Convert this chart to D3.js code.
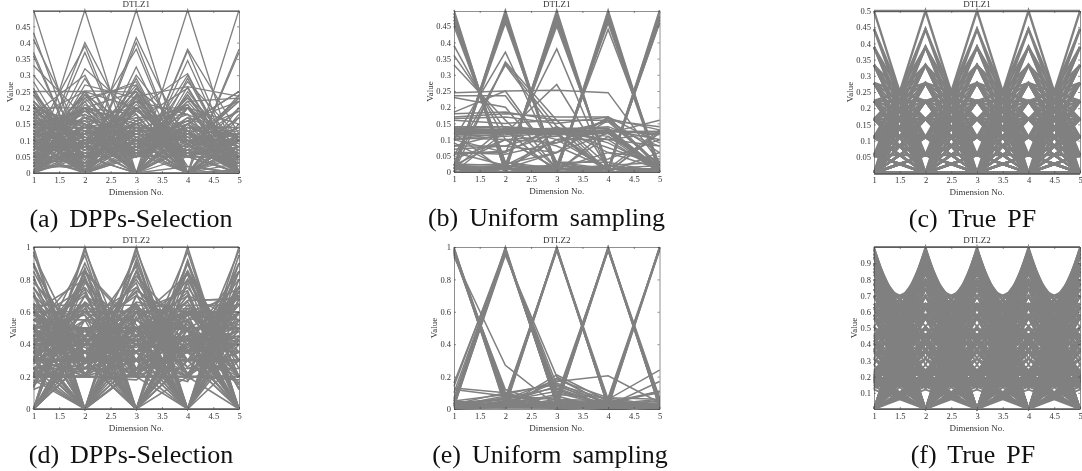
<!DOCTYPE html>
<meta charset="utf-8">
<style>
body { margin: 0; background: #fff; }
svg { filter: blur(.35px); }
text { font-family: "Liberation Serif", serif; fill: #333; }
.caption { fill: #111; word-spacing: 4.5px; }
</style>
<svg width="1082" height="471"></svg>
<script src="https://d3js.org/d3.v7.min.js"></script>
<script>

var dimensions = [1, 2, 3, 4, 5];
var xTicks = [1, 1.5, 2, 2.5, 3, 3.5, 4, 4.5, 5];
var ticksA = [0, .05, .1, .15, .2, .25, .3, .35, .4, .45];
var ticksC = [.05, .1, .15, .2, .25, .3, .35, .4, .45, .5];
var ticksD = [0, .2, .4, .6, .8, 1];
var ticksF = [.1, .2, .3, .4, .5, .6, .7, .8, .9];

var dppsDtlz1 = [
[.497,.497,.497,.497,.497],
[.5,0,0,0,0],[0,.5,0,0,0],[0,0,.5,0,0],[0,0,0,.5,0],[0,0,0,0,.5],
[.43,0,.07,0,0],[.41,.09,0,0,0],[.37,0,0,.13,0],[.36,0,.14,0,0],[.33,.17,0,0,0],[.26,0,0,.24,0],
[0,.4,.1,0,0],[.1,.39,0,0,.01],[0,.37,0,.13,0],[0,.32,.18,0,0],[.18,.3,0,.02,0],[0,.27,.23,0,0],[.05,.25,.2,0,0],
[0,0,.415,.085,0],[.09,0,.4,0,.01],[0,.12,.38,0,0],[.17,0,.325,0,0],[.21,0,.29,0,0],[0,.22,.28,0,0],
[0,0,0,.38,.12],[.12,0,0,.375,.005],[0,.15,0,.345,0],[0,0,.195,.305,0],[.21,0,0,.29,0],[0,0,.235,.265,0],
[0,.12,0,0,.38],[.13,0,0,0,.37],[0,.252,.248,0,0],[0,0,0,.265,.235],[0,0,.05,.22,.23],
[.02,.29,.05,.14,0],[.12,.2,.18,0,0],[0,.23,.27,0,0],[.18,.04,.26,.02,0],[.02,.08,.22,.18,0],[0,.06,.05,.28,.11],[.04,.05,.08,.23,.1],[.2,.2,.1,0,0],
[.2,.1,.05,.15,0],[.12,.18,.1,0,.1],[.15,0,.2,.05,.1],[.08,.22,0,.12,.08],[.1,.05,.17,.18,0],[.17,.13,0,.2,0],[0,.2,.15,.1,.05],[.05,.1,.25,.05,.05],[.22,.03,.12,.05,.08],[.14,.06,.09,.21,0],
[0,.07,.21,.08,.14],[.06,.16,.05,.1,.13],[.19,0,.06,.14,.11],[.03,.21,.11,.15,0],[.11,.03,.14,.05,.17],[.16,.09,.18,0,.07],[.04,.13,.07,.22,.04],[.24,.08,0,0,.18],[.09,.19,.16,.06,0],[.13,.04,.22,.11,0],
[.07,.11,.05,.17,.1],[.18,.15,.06,0,.11],[.02,.06,.19,.09,.14],[.1,.2,.08,0,.12],[.15,.12,.13,.1,0],[0,.09,.13,.2,.08],[.21,.01,.1,.16,.02],[.08,.17,.2,.05,0],[.12,.08,.05,.13,.12],[.03,.14,.17,.05,.11],
[.25,.05,0,.08,.12],[.06,.02,.16,.26,0],[.11,.23,.06,.07,.03],[.19,.11,.05,.12,.03],[.05,.17,.09,.05,.14],[.16,.02,.24,0,.08],[.01,.08,.12,.18,.11],[.14,.2,0,.1,.06],[.09,.06,.07,.23,.05],[.2,.14,.11,0,.05],
[.04,.03,.26,.13,.04],[.13,.16,.14,0,.07],[.17,.05,0,.09,.19],[.07,.24,.05,.06,.08],[.1,.12,.19,.09,0],[0,.18,.05,.24,.03],[.22,.07,.15,0,.06],[.06,.09,.27,0,.08],[.15,.19,.07,.05,.04],[.02,.15,.1,.11,.12],
[0,0,.1,.15,.25],[.1,0,0,.15,.25],[0,.1,.08,.09,.23],[.05,.05,.1,.06,.24],[.08,.02,.1,.07,.23],[.25,.25,0,0,0],
[.25,0,.1,.15,0],[.2,0,.15,0,.15],[.1,0,.3,.1,0],[.15,0,.05,.3,0],[.05,0,.2,.2,.05],[0,.15,0,.2,.15],[.1,.2,0,.15,.05],[.2,.15,0,.05,.1],[.05,.25,0,.2,0],[.15,.05,0,.25,.05],
[.1,.1,.2,0,.1],[.02,.2,.25,0,.03],[.15,.15,.1,0,.1],[.05,.1,.15,0,.2],[.2,.05,.2,.05,0],[0,.05,.05,.15,.25],[.18,.02,.2,.1,0],[.06,.2,.15,.09,0],[.3,.1,.05,.05,0],[.28,.02,.1,.1,0],[.22,.08,.2,0,0],[.17,.25,.08,0,0],
[.04,.12,.14,.12,.08],[.1,.1,.1,.1,.1],[.13,.11,.09,.07,.1],[.07,.14,.06,.14,.09],[.12,.06,.16,.06,.1],[.09,.09,.12,.11,.09],[.16,.07,.08,.12,.07],[.05,.15,.11,.08,.11],[.11,.13,.05,.15,.06],[.08,.05,.13,.16,.08],
[.06,.14,0,.08,.22],[.14,0,.08,.14,.14],[0,.13,.12,.05,.2],[.13,.07,.13,0,.17],[.09,.14,.14,.13,0],[.06,0,.13,.12,.19],[.12,.12,.06,.2,0],[.19,.09,.09,.13,0],[0,.24,.13,.13,0],[.24,0,.06,.2,0],
[.16,.16,.06,.12,0],[.03,.08,.09,.08,.22],[.08,.08,.24,0,.1],[.11,.17,.12,.1,0],[.14,.14,.22,0,0],[.07,.19,.07,.17,0],[.01,.03,.16,.2,.1],[.02,.02,.08,.16,.22],[.03,.01,.23,.06,.17],[.12,.02,.15,.21,0]
];

var uniformDtlz1 = [
[.5,0,.0,0,0],[.49,.01,0,0,0],[.48,.02,0,.0,0],[.47,0,.01,.02,0],[.46,.02,.01,0,.01],[.45,.03,.01,.01,0],[.39,.1,.01,0,0],[.36,.13,0,.01,0],[.33,.16,.01,0,0],[.49,0,.01,0,0],[.48,0,.02,0,0],[.47,.03,0,0,0],
[0,.5,0,0,0],[.01,.49,0,0,0],[0,.48,.01,.01,0],[.02,.47,0,.01,0],[.01,.46,.02,.01,0],[0,.49,.01,0,0],[.01,.48,.01,0,0],[.02,.47,.01,0,0],[.1,.37,.03,0,0],[0,.34,.16,0,0],[.02,.335,.14,0,0],[.05,.33,.12,0,0],
[0,0,.5,0,0],[0,.01,.49,0,0],[.01,0,.48,.01,0],[0,.02,.47,.01,0],[.02,.01,.46,.01,0],[.01,.02,.45,.02,0],[0,.01,.48,.01,0],[.01,.01,.47,.01,0],[.06,.06,.38,0,0],[.1,.12,.27,.01,0],
[0,0,0,.5,0],[.01,0,0,.49,0],[0,.01,.01,.48,0],[0,.01,0,.47,.02],[.01,.01,.02,.46,0],[.02,0,.02,.44,.02],[0,.01,0,.49,0],[.01,0,.01,.48,0],[.01,.01,0,.47,.01],
[0,0,0,0,.5],[.01,0,0,.01,.49],[0,.01,.01,0,.48],[.01,0,.01,.01,.47],[0,.02,.01,.01,.46],[.01,.01,.01,.01,.46],[0,0,.01,.01,.48],[.01,.01,0,0,.47],
[.245,.25,.252,.245,.03],[.235,.235,.03,.01,0],[.23,.2,.01,0,.06],[.18,.185,.16,.02,0],[.17,.18,.17,.17,.01],[.165,.17,.15,.17,.02],[.16,.15,.16,.16,.14],[.185,.25,.03,.03,0],
[.13,.125,.125,.125,0],[.125,.13,.12,.125,.01],[.12,.125,.13,.12,.01],[.13,.12,.125,.13,0],[.125,.125,.12,.13,.01],[.12,.13,.13,.12,0],[.135,.13,.115,.12,0],[.115,.12,.13,.135,0],[.13,.13,.13,.11,0],[.11,.115,.135,.135,.01],
[.14,.135,.13,.1,0],[.125,.125,.125,.125,.125],[.12,.12,.12,.01,.13],[.13,.12,.115,.0,.125],[.125,.13,.0,.13,.115],[.12,.0,.13,.125,.125],[.0,.125,.125,.125,.12],[.135,.125,.12,.0,.12],
[.105,.1,.11,.16,.02],[.1,.11,.12,.155,.02],[.14,.14,.13,.075,.02],[.135,.13,.135,.09,.01],[.08,.08,.06,.12,.16],[.07,.08,.13,.14,.08],[.06,.055,.09,.165,.13],[.055,.065,.12,.1,.12],
[.025,.02,.1,.13,.1],[.02,.025,.06,.17,.09],[.01,.01,.06,.16,.06],[.015,.015,.02,.04,.1],[.01,.01,.005,.02,.03],[.06,.02,.005,.11,.02],[.04,.1,.01,.06,.04],[.08,.12,.08,.01,.01],[.01,.14,.1,.01,.02],[.1,.06,.14,.06,.01],[.02,.1,.09,.13,.01],[.09,.01,.1,.1,.08]
];

var trueDtlz1Grid = [
"99999",
"90000","00009","00090","00900","09000",
"81000","10008","00081","00810","08100","18000","80001","00018","00180","01800",
"72000","20007","00072","00720","07200","27000","70002","00027","00270","02700",
"63000","30006","00063","00630","06300","36000","60003","00036","00360","03600",
"54000","40005","00054","00540","05400","45000","50004","00045","00450","04500",
"62100","21006","10062","00621","06210","12600","26001","60012","00126","01260","61020","10206","02061","20610","06102","16020","60201","02016","20160","01602",
"53100","31005","10053","00531","05310","13500","35001","50013","00135","01350","51030","10305","03051","30510","05103","15030","50301","03015","30150","01503",
"43200","32004","20043","00432","04320","23400","34002","40023","00234","02340","42030","20304","03042","30420","04203","24030","40302","03024","30240","02403",
"71100","11007","10071","00711","07110","17010","70101","01017","10170","01701",
"52200","22005","20052","00522","05220","25020","50202","02025","20250","02502",
"44100","41004","10044","00441","04410","14040","40401","04014","40140","01404",
"33300","33003","30033","00333","03330"
];
var gridStep = .5 / 9;

var dppsDtlz2 = [
[1,1,1,1,1],
[1,0,0,0,0],[0,1,0,0,0],[0,0,1,0,0],[0,0,0,1,0],[0,0,0,0,1],
[.97,0,.24,0,0],[.95,.31,0,0,0],[.9,0,0,.44,0],[.88,.3,0,.37,0],[.82,0,.57,0,0],[.78,.45,.43,0,0],[.75,.2,.63,0,0],[.63,0,.6,.49,0],[.6,.58,0,.55,0],[.58,.42,.5,.49,0],
[0,.98,.2,0,0],[.3,.95,0,0,0],[0,.87,0,.49,0],[.5,.86,0,0,0],[0,.85,.52,0,0],[.2,.84,.5,0,0],[0,.82,0,.4,.4],[.6,.8,0,0,0],[0,.78,.45,.43,0],[.4,.74,0,.54,0],[.5,.7,.5,0,0],[.3,.66,.45,.52,0],
[0,.3,.95,0,0],[.38,0,.92,0,0],[0,0,.98,.2,0],[0,.45,.88,0,0],[.5,0,.85,0,0],[0,.3,.82,.48,0],[.4,.45,.78,0,0],[0,.4,.73,.55,0],[.5,0,.7,.5,0],[.2,.35,.66,.6,.2],
[0,0,.24,.97,0],[.38,0,0,.92,0],[0,.44,0,.9,0],[.52,0,0,.85,0],[0,0,.55,.83,0],[.4,.45,0,.78,0],[0,.3,.6,.73,0],[.5,0,.5,.7,0],[.35,.4,.45,.66,.2],
[0,0,0,.2,.98],[.31,0,0,0,.95],[0,.43,0,0,.9],[.52,0,0,0,.85],[0,0,.6,0,.8],[.45,.5,0,0,.73],[.3,.3,.6,0,.68],[.45,.45,.48,0,.6],
[0,.4,.35,.6,.6],[.2,0,.5,.59,.6],[.3,.3,.4,.67,.68],[.2,.2,.3,.67,.68],[0,.5,.2,.6,.6],[.35,0,.45,.55,.6],[.3,.42,.2,.58,.6],[.25,.25,.5,.6,.5],
[.62,.28,.5,.35,.4],[.55,.5,.3,.4,.4],[.4,.6,.35,.55,.2],[.45,.35,.6,.4,.4],[.35,.4,.42,.6,.42],[.38,.3,.5,.38,.6],[.5,.22,.45,.6,.35],[.25,.55,.55,.35,.45],[.6,.38,.2,.35,.55],[.32,.6,.6,.22,.35],
[.42,.48,.25,.5,.52],[.2,.45,.65,.22,.5],[.55,.55,.4,.2,.42],[.25,.3,.35,.62,.58],[.48,.25,.2,.5,.65],[.6,.2,.6,.22,.42],[.42,.42,.42,.42,.5],[.22,.7,.22,.4,.48],[.7,.22,.4,.22,.48],[.46,.5,.46,.26,.5],
[.2,.25,.5,.3,.75],[.35,.65,.25,.45,.42],[.28,.48,.7,.3,.3],[.52,.4,.3,.2,.65],[.65,.45,.4,.45,.2],[.3,.22,.3,.7,.55],[.44,.3,.62,.42,.35],[.22,.4,.38,.58,.55],[.5,.58,.22,.38,.48],[.36,.36,.36,.36,.69],
[0,.4,0,.6,.7],[.4,0,.5,0,.76],[.5,.5,0,.5,.5],[0,.5,.5,.5,.5],[.5,0,.5,.5,.5],[.5,.5,.5,0,.5],[.6,0,.4,.4,.55],[.35,.55,0,.4,.65],[.45,.6,.45,0,.45],[0,.35,.55,.35,.65],
[.7,.4,.35,0,.45],[.25,0,.55,.35,.7],[.7,0,.25,.45,.5],[.5,.3,0,.6,.52],[.3,.6,.3,0,.68],[.55,.42,.5,.5,0],[.45,.65,.35,.45,0],[.4,.4,.62,.5,0],[.65,.35,.35,.55,0],[.38,.5,.5,.58,0],
[.22,.2,.18,.4,.85],[.4,.62,.2,.2,.6],[.6,.25,.65,.18,.3],[.28,.5,.25,.17,.75],[.2,.28,.5,.6,.5],[.32,.2,.4,.35,.75],
[.64,.64,0,.3,.3],[.3,.64,.64,.3,0],[0,.3,.64,.64,.3],[.3,0,.3,.64,.64],[.64,.3,0,.3,.64],[.55,.75,.35,0,0],[0,.55,.75,.35,0],[0,0,.55,.75,.35],[.35,0,0,.55,.75],[.75,.35,0,0,.55],
[.4,.8,.3,.3,0],[0,.4,.8,.3,.3],[.3,0,.4,.8,.3],[.3,.3,0,.4,.8],[.8,.3,.3,0,.4],[.2,.85,.25,.25,.35],[.35,.2,.85,.25,.25],[.25,.35,.2,.85,.25],[.25,.25,.35,.2,.85],[.85,.25,.25,.35,.2],
[.45,.72,0,.3,.43],[.43,.45,.72,0,.3],[.3,.43,.45,.72,0],[0,.3,.43,.45,.72],[.72,0,.3,.43,.45],[.2,.2,.2,.2,.9],[.9,.2,.2,.2,.2],[.2,.9,.2,.2,.2],[.2,.2,.9,.2,.2],[.2,.2,.2,.9,.2],
[.6,.6,.3,.3,.3],[.3,.6,.6,.3,.3],[.3,.3,.6,.6,.3],[.3,.3,.3,.6,.6],[.6,.3,.3,.3,.6],
[.13,.8,.3,.3,.4],[.15,.35,.75,.4,.35],[.18,0,.6,.3,.7],[.2,.5,0,.8,.2],[.14,.7,.4,0,.55],[.22,0,.35,.85,.3],[.12,.25,.5,.35,.72],[.16,.62,.2,.62,.3],
[.4,.3,.6,.62,.13],[.3,.8,.3,.4,.15],[.6,.4,.65,.2,.18],[.55,.3,.3,.7,.12],[.5,0,.7,.5,.16],[.25,.35,.3,.85,.2]
];

var uniformDtlz2 = [
[1,.01,.01,0,.01],[.99,.03,.02,.01,0],[.99,.05,.01,.02,.01],[.98,.06,0,.01,.02],[.98,.08,.03,0,.01],[.97,.1,.01,.03,0],[.97,.04,.02,.01,.03],[.96,.09,.02,.02,.01],[.95,.12,.01,0,.02],[.94,.27,.02,.01,0],[.98,.02,.01,.01,.01],[.96,.06,.03,.01,.01],[.97,.07,.01,.01,.02],[.99,.09,.02,0,.01],
[.02,1,.02,.01,0],[.14,.99,.02,0,.01],[.05,.99,.03,.01,.01],[.03,.98,.05,.01,.02],[.02,.98,.08,0,.01],[.01,.97,.1,.02,0],[.04,.97,.06,.01,.01],[.03,.96,.12,.02,.01],[.05,.96,.15,.01,0],[.02,.95,.2,.02,0],[.1,.98,.04,.01,.01],[.16,.97,.03,0,.01],[.06,.98,.02,.01,.02],[.03,.97,.03,.01,.01],[.07,.99,.06,0,.01],
[.01,.02,1,.03,.01],[.02,.03,1,.01,0],[.01,.05,.99,.02,.01],[.02,.01,.99,.04,.01],[.01,.03,.98,.05,.02],[.02,.06,.99,.01,0],[.01,.04,.99,.06,.01],[.03,.02,.98,.03,.02],[.01,.07,.98,.02,.01],
[.01,.01,.02,1,.03],[.02,.01,.03,1,.01],[.01,.02,.05,.99,.02],[.01,.03,.01,.99,.04],[.02,.01,.03,.99,.05],[.01,.01,.06,.99,.01],[0,.02,.02,.98,.06],[.01,.01,.01,.98,.03],[.02,.02,.08,.98,.02],[.01,.03,.04,.99,.07],
[.01,.02,.01,.03,1],[.02,.01,.02,.02,1],[.01,.01,.01,.05,.99],[.01,.02,.02,.01,.99],[0,.01,.03,.04,.99],[.02,.01,.01,.06,.98],[.01,.03,.01,.02,.98],[.01,.02,.01,.07,.99],
[.13,.1,.02,.01,.02],[.12,.08,.06,.03,.01],[.05,.09,.16,.03,.01],[.03,.06,.18,.07,.02],[.02,.03,.17,.205,.04],[.03,.1,.15,.06,.24],[.02,.07,.13,.02,.17],[.01,.05,.11,.03,.11],[.03,.03,.09,.07,.06],[.04,.02,.21,.05,.03],[.02,.01,.19,.03,.05],[.01,.04,.14,.04,.11],
[.01,.01,.01,.01,.01],[.02,.02,.01,.02,.02],[.03,.02,.02,.01,.03],[.01,.03,.03,.03,.01],[.02,.01,.005,.02,.05],[.03,.04,.01,.01,.04],[.05,.02,.01,.03,.06],[.04,.06,.03,.02,.02],[.02,.08,.06,.05,.01],[.01,.02,.04,.04,.1]
];

var trueDtlz2 = [
[1,1,1,1,1],
[1,0,0,0,0],[0,0,0,0,1],[0,0,0,1,0],[0,0,1,0,0],[0,1,0,0,0],
[.99,.12,0,0,0],[.12,0,0,0,.99],[0,0,0,.99,.12],[0,0,.99,.12,0],[0,.99,.12,0,0],[.12,.99,0,0,0],[.99,0,0,0,.12],[0,0,0,.12,.99],[0,0,.12,.99,0],[0,.12,.99,0,0],
[.96,.27,0,0,0],[.27,0,0,0,.96],[0,0,0,.96,.27],[0,0,.96,.27,0],[0,.96,.27,0,0],[.27,.96,0,0,0],[.96,0,0,0,.27],[0,0,0,.27,.96],[0,0,.27,.96,0],[0,.27,.96,0,0],
[.89,.45,0,0,0],[.45,0,0,0,.89],[0,0,0,.89,.45],[0,0,.89,.45,0],[0,.89,.45,0,0],[.45,.89,0,0,0],[.89,0,0,0,.45],[0,0,0,.45,.89],[0,0,.45,.89,0],[0,.45,.89,0,0],
[.78,.62,0,0,0],[.62,0,0,0,.78],[0,0,0,.78,.62],[0,0,.78,.62,0],[0,.78,.62,0,0],[.62,.78,0,0,0],[.78,0,0,0,.62],[0,0,0,.62,.78],[0,0,.62,.78,0],[0,.62,.78,0,0],
[.94,.31,.16,0,0],[.31,.16,0,0,.94],[.16,0,0,.94,.31],[0,0,.94,.31,.16],[0,.94,.31,.16,0],[.16,.31,.94,0,0],[.31,.94,0,0,.16],[.94,0,0,.16,.31],[0,0,.16,.31,.94],[0,.16,.31,.94,0],
[.94,.16,0,.31,0],[.16,0,.31,0,.94],[0,.31,0,.94,.16],[.31,0,.94,.16,0],[0,.94,.16,0,.31],[.16,.94,0,.31,0],[.94,0,.31,0,.16],[0,.31,0,.16,.94],[.31,0,.16,.94,0],[0,.16,.94,0,.31],
[.85,.51,.17,0,0],[.51,.17,0,0,.85],[.17,0,0,.85,.51],[0,0,.85,.51,.17],[0,.85,.51,.17,0],[.17,.51,.85,0,0],[.51,.85,0,0,.17],[.85,0,0,.17,.51],[0,0,.17,.51,.85],[0,.17,.51,.85,0],
[.85,.17,0,.51,0],[.17,0,.51,0,.85],[0,.51,0,.85,.17],[.51,0,.85,.17,0],[0,.85,.17,0,.51],[.17,.85,0,.51,0],[.85,0,.51,0,.17],[0,.51,0,.17,.85],[.51,0,.17,.85,0],[0,.17,.85,0,.51],
[.74,.56,.37,0,0],[.56,.37,0,0,.74],[.37,0,0,.74,.56],[0,0,.74,.56,.37],[0,.74,.56,.37,0],[.37,.56,.74,0,0],[.56,.74,0,0,.37],[.74,0,0,.37,.56],[0,0,.37,.56,.74],[0,.37,.56,.74,0],
[.74,.37,0,.56,0],[.37,0,.56,0,.74],[0,.56,0,.74,.37],[.56,0,.74,.37,0],[0,.74,.37,0,.56],[.37,.74,0,.56,0],[.74,0,.56,0,.37],[0,.56,0,.37,.74],[.56,0,.37,.74,0],[0,.37,.74,0,.56],
[.98,.14,.14,0,0],[.14,.14,0,0,.98],[.14,0,0,.98,.14],[0,0,.98,.14,.14],[0,.98,.14,.14,0],[.14,.98,0,.14,0],[.98,0,.14,0,.14],[0,.14,0,.14,.98],[.14,0,.14,.98,0],[0,.14,.98,0,.14],
[.87,.35,.35,0,0],[.35,.35,0,0,.87],[.35,0,0,.87,.35],[0,0,.87,.35,.35],[0,.87,.35,.35,0],[.35,.87,0,.35,0],[.87,0,.35,0,.35],[0,.35,0,.35,.87],[.35,0,.35,.87,0],[0,.35,.87,0,.35],
[.7,.7,.17,0,0],[.7,.17,0,0,.7],[.17,0,0,.7,.7],[0,0,.7,.7,.17],[0,.7,.7,.17,0],[.17,.7,0,.7,0],[.7,0,.7,0,.17],[0,.7,0,.17,.7],[.7,0,.17,.7,0],[0,.17,.7,0,.7],
[.58,.58,.58,0,0],[.58,.58,0,0,.58],[.58,0,0,.58,.58],[0,0,.58,.58,.58],[0,.58,.58,.58,0],
[.96,.16,.16,.16,0],[.16,.16,.16,0,.96],[.16,.16,0,.96,.16],[.16,0,.96,.16,.16],[0,.96,.16,.16,.16],[.16,.96,0,.16,.16],[.96,0,.16,.16,.16],[0,.16,.16,.16,.96],[.16,.16,.16,.96,0],[.16,.16,.96,0,.16],
[.65,.44,.44,.44,0],[.44,.44,.44,0,.65],[.44,.44,0,.65,.44],[.44,0,.65,.44,.44],[0,.65,.44,.44,.44],[.44,.65,0,.44,.44],[.65,0,.44,.44,.44],[0,.44,.44,.44,.65],[.44,.44,.44,.65,0],[.44,.44,.65,0,.44],
[.9,.36,.18,.18,0],[.36,.18,.18,0,.9],[.18,.18,0,.9,.36],[.18,0,.9,.36,.18],[0,.9,.36,.18,.18],[.36,.9,.18,0,.18],[.9,.18,0,.18,.36],[.18,0,.18,.36,.9],[0,.18,.36,.9,.18],[.18,.36,.9,.18,0],
[.18,.9,0,.36,.18],[.9,0,.36,.18,.18],[0,.36,.18,.18,.9],[.36,.18,.18,.9,0],[.18,.18,.9,0,.36],[.9,.18,.36,0,.18],[.18,.36,0,.18,.9],[.36,0,.18,.9,.18],[0,.18,.9,.18,.36],[.18,.9,.18,.36,0],
[.77,.58,.19,.19,0],[.58,.19,.19,0,.77],[.19,.19,0,.77,.58],[.19,0,.77,.58,.19],[0,.77,.58,.19,.19],[.58,.77,.19,0,.19],[.77,.19,0,.19,.58],[.19,0,.19,.58,.77],[0,.19,.58,.77,.19],[.19,.58,.77,.19,0],
[.19,.77,0,.58,.19],[.77,0,.58,.19,.19],[0,.58,.19,.19,.77],[.58,.19,.19,.77,0],[.19,.19,.77,0,.58],[.77,.19,.58,0,.19],[.19,.58,0,.19,.77],[.58,0,.19,.77,.19],[0,.19,.77,.19,.58],[.19,.77,.19,.58,0],
[.8,.2,.4,.4,0],[.2,.4,.4,0,.8],[.4,.4,0,.8,.2],[.4,0,.8,.2,.4],[0,.8,.2,.4,.4],[.2,.8,.4,0,.4],[.8,.4,0,.4,.2],[.4,0,.4,.2,.8],[0,.4,.2,.8,.4],[.4,.2,.8,.4,0],
[.4,.8,0,.2,.4],[.8,0,.2,.4,.4],[0,.2,.4,.4,.8],[.2,.4,.4,.8,0],[.4,.4,.8,0,.2],[.8,.4,.2,0,.4],[.4,.2,0,.4,.8],[.2,0,.4,.8,.4],[0,.4,.8,.4,.2],[.4,.8,.4,.2,0],
[.42,.21,.63,.63,0],[.21,.63,.63,0,.42],[.63,.63,0,.42,.21],[.63,0,.42,.21,.63],[0,.42,.21,.63,.63],[.21,.42,.63,0,.63],[.42,.63,0,.63,.21],[.63,0,.63,.21,.42],[0,.63,.21,.42,.63],[.63,.21,.42,.63,0],
[.63,.42,0,.21,.63],[.42,0,.21,.63,.63],[0,.21,.63,.63,.42],[.21,.63,.63,.42,0],[.63,.63,.42,0,.21],[.42,.63,.21,0,.63],[.63,.21,0,.63,.42],[.21,0,.63,.42,.63],[0,.63,.42,.63,.21],[.63,.42,.63,.21,0],
[.93,.19,.19,.19,.19],[.19,.19,.19,.19,.93],[.19,.19,.19,.93,.19],[.19,.19,.93,.19,.19],[.19,.93,.19,.19,.19],
[.83,.42,.21,.21,.21],[.42,.21,.21,.21,.83],[.21,.21,.21,.83,.42],[.21,.21,.83,.42,.21],[.21,.83,.42,.21,.21],[.42,.83,.21,.21,.21],[.83,.21,.21,.21,.42],[.21,.21,.21,.42,.83],[.21,.21,.42,.83,.21],[.21,.42,.83,.21,.21],
[.65,.65,.22,.22,.22],[.65,.22,.22,.22,.65],[.22,.22,.22,.65,.65],[.22,.22,.65,.65,.22],[.22,.65,.65,.22,.22],
[.69,.46,.46,.23,.23],[.46,.46,.23,.23,.69],[.46,.23,.23,.69,.46],[.23,.23,.69,.46,.46],[.23,.69,.46,.46,.23],[.46,.69,.23,.23,.46],[.69,.23,.23,.46,.46],[.23,.23,.46,.46,.69],[.23,.46,.46,.69,.23],[.46,.46,.69,.23,.23],
[.49,.49,.49,.49,.24],[.49,.49,.49,.24,.49],[.49,.49,.24,.49,.49],[.49,.24,.49,.49,.49],[.24,.49,.49,.49,.49]
];

var trueDtlz1 = trueDtlz1Grid.map(function (row) {
    return row.split("").map(function (c) { return +c * gridStep; });
});

// axes box of each panel, in page pixels
var panels = [
    { rows: dppsDtlz1, width: 1.3, title: "DTLZ1", caption: "(a) DPPs-Selection", ticks: ticksA, top: .497, x0: 33.5, x1: 239, y0: 11, y1: 173, labelX: 10, capX: 131, capY: 227 },
    { rows: uniformDtlz1, width: 1.5, title: "DTLZ1", caption: "(b) Uniform sampling", ticks: ticksA, top: .497, x0: 454, x1: 659.5, y0: 11, y1: 172, labelX: 430, capX: 546.5, capY: 226 },
    { rows: trueDtlz1, width: 2.4, title: "DTLZ1", caption: "(c) True PF", ticks: ticksC, top: .5, x0: 874, x1: 1080, y0: 11, y1: 173, labelX: 850, capX: 972.5, capY: 227 },
    { rows: dppsDtlz2, width: 1.6, title: "DTLZ2", caption: "(d) DPPs-Selection", ticks: ticksD, top: 1, x0: 33.5, x1: 239, y0: 247, y1: 409, labelX: 13, capX: 131, capY: 463 },
    { rows: uniformDtlz2, width: 1.5, title: "DTLZ2", caption: "(e) Uniform sampling", ticks: ticksD, top: 1, x0: 454, x1: 659.5, y0: 247, y1: 409, labelX: 434, capX: 550, capY: 463 },
    { rows: trueDtlz2, width: 1.9, title: "DTLZ2", caption: "(f) True PF", ticks: ticksF, top: 1, x0: 874, x1: 1080, y0: 247, y1: 409, labelX: 854, capX: 973, capY: 463 }
];

var svg = d3.select("svg");

panels.forEach(drawPanel);

function drawPanel(p) {
    var x = d3.scaleLinear().domain([1, 5]).range([p.x0, p.x1]);
    var y = d3.scaleLinear().domain([0, p.top]).range([p.y1, p.y0]);
    var g = svg.append("g");

    var line = d3.line()
        .x(function (d, i) { return x(dimensions[i]); })
        .y(function (d) { return y(d); });

    g.append("g").selectAll("path")
        .data(p.rows)
        .enter().append("path")
        .attr("d", line)
        .attr("fill", "none")
        .attr("stroke", "#808080")
        .attr("stroke-width", p.width);

    var bottom = d3.axisBottom(x).tickValues(xTicks).tickSizeInner(-2).tickSizeOuter(0).tickPadding(4).tickFormat(d3.format("~g"));
    var left = d3.axisLeft(y).tickValues(p.ticks).tickSizeInner(-2).tickSizeOuter(0).tickPadding(3).tickFormat(d3.format("~g"));
    var top = d3.axisTop(x).tickValues(xTicks).tickSizeInner(-2).tickSizeOuter(0).tickFormat("");
    var right = d3.axisRight(y).tickValues(p.ticks).tickSizeInner(-2).tickSizeOuter(0).tickFormat("");

    g.append("g").attr("transform", "translate(0," + p.y1 + ")").call(bottom);
    g.append("g").attr("transform", "translate(" + p.x0 + ",0)").call(left);
    g.append("g").attr("transform", "translate(0," + p.y0 + ")").call(top);
    g.append("g").attr("transform", "translate(" + p.x1 + ",0)").call(right);

    g.selectAll(".tick text").style("font-family", '"Liberation Serif", serif').style("font-size", "8.5px").attr("fill", "#333");
    g.selectAll(".domain, .tick line").attr("stroke", "#444").attr("stroke-width", .6);

    var cx = (p.x0 + p.x1) / 2;
    g.append("text").attr("x", cx).attr("y", p.y0 - 4.5).attr("text-anchor", "middle").style("font-size", "9px").text(p.title);
    g.append("text").attr("x", cx).attr("y", p.y1 + 22).attr("text-anchor", "middle").style("font-size", "9px").text("Dimension No.");
    g.append("text").attr("transform", "translate(" + p.labelX + "," + ((p.y0 + p.y1) / 2) + ") rotate(-90)")
        .attr("text-anchor", "middle").attr("dy", "0.32em").style("font-size", "9px").text("Value");
    g.append("text").attr("class", "caption").attr("x", p.capX).attr("y", p.capY).attr("text-anchor", "middle")
        .style("font-size", "26px").text(p.caption);
}

</script>
